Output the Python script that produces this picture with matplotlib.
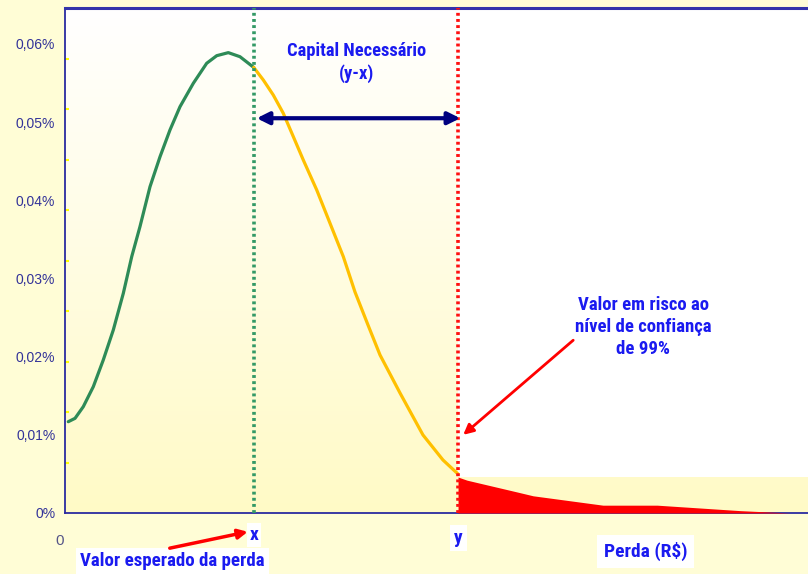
import numpy as np
import matplotlib
matplotlib.use("Agg")
import matplotlib.pyplot as plt
import matplotlib.font_manager as fm
from matplotlib.colors import LinearSegmentedColormap

# ---- data (loss in arbitrary units 0-100, density in %) ----
green_x = [0.44, 1.35, 2.46, 3.81, 5.15, 6.50, 7.85, 8.98, 10.09, 11.44, 12.79, 14.13,
           15.48, 17.27, 19.07, 20.42, 21.98, 23.55, 25.40]
green_y = [0.01168, 0.01211, 0.01360, 0.01616, 0.01957, 0.02341, 0.02811, 0.03279, 0.03663,
           0.04174, 0.04558, 0.04900, 0.05198, 0.05497, 0.05753, 0.05850, 0.05889, 0.05837,
           0.05700]
yellow_x = [25.40, 26.69, 28.03, 29.38, 30.73, 32.07, 33.88, 35.67, 37.46, 39.03, 40.78,
            42.40, 45.09, 48.18, 50.87, 52.89]
yellow_y = [0.05700, 0.05539, 0.05347, 0.05113, 0.04814, 0.04516, 0.04132, 0.03706, 0.03279,
            0.02827, 0.02405, 0.02021, 0.01535, 0.00998, 0.00678, 0.00499]
tail_x = [52.9, 54.1, 60.8, 63.0, 72.4, 79.7, 90.9, 97.6, 98.9]
tail_y = [0.0046, 0.0042, 0.0027, 0.0022, 0.0010, 0.0010, 0.0003, 0.0, 0.0]
expected_loss = 25.4
var_99 = 52.9
ytick_vals = [0.0, 0.01, 0.02, 0.03, 0.04, 0.05, 0.06]
ytick_labels = ["0%", "0,01%", "0,02%", "0,03%", "0,04%", "0,05%", "0,06%"]

Y_TOP = 0.0646
X_MAX = 100

plt.rcParams["font.family"] = ["Liberation Sans", "DejaVu Sans"]


def pick_condensed_bold():
    prefs = ["Liberation Sans Narrow", "Arial Narrow", "Roboto Condensed",
             "Open Sans Condensed", "Noto Sans Condensed", "DejaVu Sans Condensed"]
    entries = fm.fontManager.ttflist

    def is_bold(e):
        w = e.weight
        if isinstance(w, str):
            return w.lower() == "bold"
        return w == 700

    for p in prefs:
        for e in entries:
            if e.name == p and is_bold(e) and e.style == "normal":
                return e.fname
    for e in entries:
        fn = e.fname.lower()
        if (("condensed" in fn or "narrow" in fn) and "bold" in fn and "semi" not in fn
                and "extra" not in fn and "italic" not in fn and "oblique" not in fn):
            return e.fname
    return None


_cf = pick_condensed_bold()


def cfont(size):
    if _cf:
        fp = fm.FontProperties(fname=_cf)
    else:
        fp = fm.FontProperties(family="Liberation Sans", weight="bold")
    fp.set_size(size if _cf else size * 0.85)
    return fp


fig = plt.figure(figsize=(8.08, 5.74), dpi=100, facecolor="#FFFDD6")
ax = fig.add_axes([65 / 808, 61 / 574, 1 - 65 / 808, 505 / 574])
ax.set_xlim(0, X_MAX)
ax.set_ylim(0, Y_TOP)

# gradient background
cmap = LinearSegmentedColormap.from_list("bg", ["#FFFAC6", "#FFFFFF"])
grad = np.linspace(0, 1, 256).reshape(-1, 1)
ax.imshow(grad, extent=[0, X_MAX, 0, Y_TOP], origin="lower", aspect="auto",
          cmap=cmap, zorder=0)
# white region to the right of VaR line
ax.fill_between([var_99, X_MAX], tail_y[0], Y_TOP, color="white", zorder=0.5, lw=0)

# curves
ax.plot(green_x, green_y, color="#2E8B57", lw=2.3, zorder=3, solid_capstyle="round",
        solid_joinstyle="round")
ax.plot(yellow_x, yellow_y, color="#FFC000", lw=2.3, zorder=3, solid_capstyle="round",
        solid_joinstyle="round")
ax.fill_between(tail_x, tail_y, 0, color="#FF0000", lw=0, zorder=3)

# vertical dotted lines
ax.axvline(expected_loss, color="#339966", lw=2.6, linestyle=(0, (0.8, 0.9)), zorder=4)
ax.axvline(var_99, color="#FF1010", lw=2.6, linestyle=(0, (0.8, 0.9)), zorder=4)

# double arrow
ax.annotate("", xy=(expected_loss + 0.4, 0.0505), xytext=(var_99 + 0.3, 0.0505),
            arrowprops=dict(arrowstyle="<|-|>", color="#000080", lw=3,
                            mutation_scale=18, shrinkA=0, shrinkB=0), zorder=5)

tcol = "#1A1AF0"
ax.text(39.2, 0.0602, "Capital Necessário\n(y-x)", ha="center", va="top", color=tcol,
        fontproperties=cfont(13.3), linespacing=1.25, zorder=5)
ax.text(77.8, 0.0278, "Valor em risco ao\nnível de confiança\nde 99%", ha="center", va="top",
        color=tcol, fontproperties=cfont(13.5), linespacing=1.3, zorder=5)

# red arrow to VaR
ax.annotate("", xy=(53.6, 0.0100), xytext=(68.4, 0.0221),
            arrowprops=dict(arrowstyle="-|>", color="#FF0000", lw=2,
                            mutation_scale=15, shrinkA=0, shrinkB=0), zorder=5)

# labels below axis
ax.text(expected_loss, -0.0028, "x", ha="center", va="center", color=tcol,
        fontproperties=cfont(14), clip_on=False,
        bbox=dict(facecolor="white", edgecolor="none", pad=2))
ax.text(var_99, -0.0032, "y", ha="center", va="center", color=tcol,
        fontproperties=cfont(14), clip_on=False,
        bbox=dict(facecolor="white", edgecolor="none", pad=3))
ax.text(-0.7, -0.0036, "0", ha="center", va="center", color="#555588", fontsize=11,
        clip_on=False)
ax.text(78.1, -0.0049, "Perda (R$)", ha="center", va="center", color=tcol,
        fontproperties=cfont(14), clip_on=False,
        bbox=dict(facecolor="white", edgecolor="none", pad=5))
ax.text(2.0, -0.0061, "Valor esperado da perda", ha="left", va="center", color=tcol,
        fontproperties=cfont(13.6), clip_on=False,
        bbox=dict(facecolor="white", edgecolor="none", pad=3))
ax.annotate("", xy=(24.6, -0.0024), xytext=(14.1, -0.0045),
            arrowprops=dict(arrowstyle="-|>", color="#FF0000", lw=2.5,
                            mutation_scale=14, shrinkA=0, shrinkB=0),
            annotation_clip=False, zorder=6)

# ticks
ax.set_xticks([])
ax.set_yticks(ytick_vals)
ax.set_yticklabels(ytick_labels)
ax.tick_params(axis="y", which="major", length=0, pad=7, labelsize=10, labelcolor="#333399")
ax.set_yticks([Y_TOP * i / 10 for i in range(11)], minor=True)
ax.tick_params(axis="y", which="minor", direction="in", length=3, width=1.5, color="#FFFF00")

for s in ["left", "bottom"]:
    ax.spines[s].set_color("#2B2BA0")
    ax.spines[s].set_linewidth(1.3)
ax.spines["top"].set_color("#3333AA")
ax.spines["top"].set_linewidth(2.2)
ax.spines["right"].set_visible(False)

fig.savefig("out.png", dpi=100, facecolor=fig.get_facecolor())
